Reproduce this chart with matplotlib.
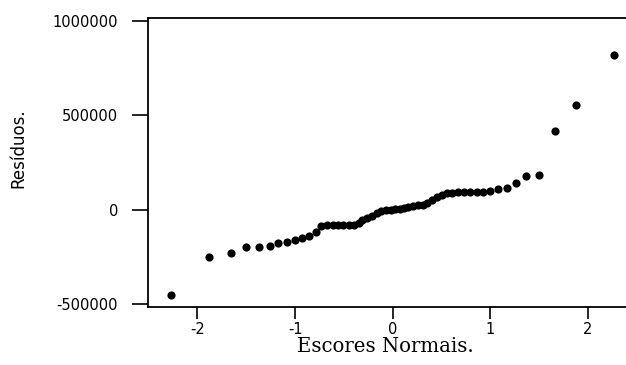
import matplotlib
matplotlib.use("Agg")
import matplotlib.pyplot as plt

# Normal scores (x) and residuals (y)
normal_scores = [-2.27, -1.88, -1.66, -1.50, -1.37, -1.26, -1.17, -1.08, -1.00, -0.93,
                 -0.86, -0.79, -0.73, -0.67, -0.61, -0.56, -0.51, -0.45, -0.40, -0.35,
                 -0.31, -0.26, -0.21, -0.16, -0.12, -0.07, -0.02, 0.02, 0.07, 0.12,
                 0.16, 0.21, 0.26, 0.31, 0.35, 0.40, 0.45, 0.51, 0.56, 0.61,
                 0.67, 0.73, 0.79, 0.86, 0.93, 1.00, 1.08, 1.17, 1.26, 1.37,
                 1.50, 1.66, 1.88, 2.27]
residuals = [-451000, -252000, -226000, -198000, -196000, -189000, -177000, -168000, -161000, -150000,
             -136000, -118000, -88000, -80000, -80000, -80000, -80000, -80000, -80000, -71000,
             -53000, -44000, -35000, -18000, -5000, 0, 0, 4000, 5000, 9000,
             14000, 21000, 26000, 28000, 35000, 53000, 67000, 80000, 88000, 90000,
             92000, 92000, 92000, 93000, 95000, 102000, 113000, 115000, 142000, 180000,
             184000, 415000, 553000, 818000]

x_ticks = [-2, -1, 0, 1, 2]
x_tick_labels = ["-2", "-1", "0", "1", "2"]
y_ticks = [-500000, 0, 500000, 1000000]
y_tick_labels = ["-500000", "0", "500000", "1000000"]

W, H = 626, 365
fig = plt.figure(figsize=(W / 100, H / 100), dpi=100)
left_px, right_px, top_px, bottom_px = 148, 640, 18.3, 306.5
ax = fig.add_axes([left_px / W, 1 - bottom_px / H, (right_px - left_px) / W, (bottom_px - top_px) / H])

ax.plot(normal_scores, residuals, "o", color="black", markersize=5.9, markeredgewidth=0)

ax.set_xlim(-2.507, 2.534)
ax.set_ylim(-511600, 1014300)

ax.set_xticks(x_ticks)
ax.set_xticklabels(x_tick_labels, fontsize=10.5, family="DejaVu Sans")
ax.set_yticks(y_ticks)
ax.set_yticklabels(y_tick_labels, fontsize=10.5, family="DejaVu Sans")

ax.tick_params(axis="x", direction="out", length=8.6, width=1.2, pad=2.5, colors="black")
ax.tick_params(axis="y", direction="out", length=11.5, width=1.2, pad=10, colors="black")

for s in ["left", "bottom", "top"]:
    ax.spines[s].set_linewidth(1.3)
    ax.spines[s].set_color("black")
ax.spines["right"].set_visible(False)

fig.text(18 / W, 1 - 148.5 / H, "Resíduos.", rotation=90, ha="center", va="center",
         fontsize=12, family="DejaVu Sans")
fig.text(385 / W, 1 - 347 / H, "Escores Normais.", ha="center", va="center",
         fontsize=14.2, family="DejaVu Serif")

fig.savefig("out.png", dpi=100)
